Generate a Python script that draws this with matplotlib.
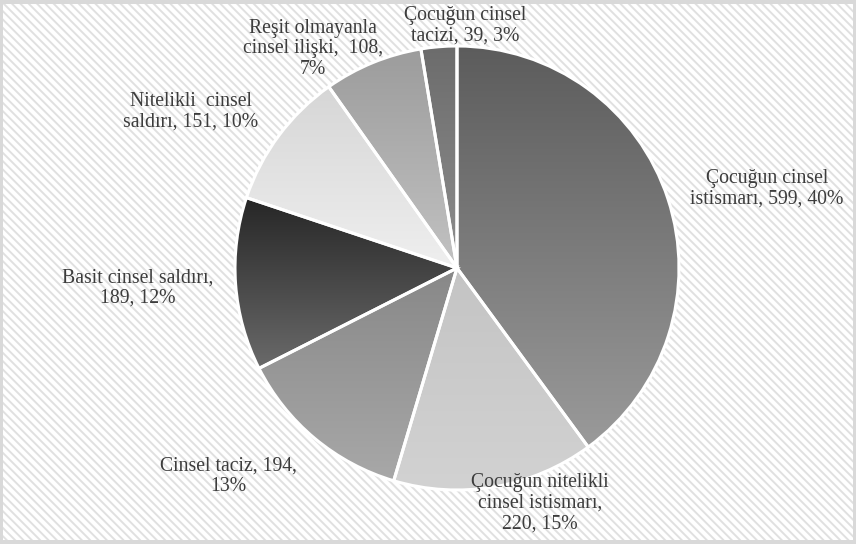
import numpy as np
import matplotlib
matplotlib.use("Agg")
import matplotlib.pyplot as plt
from matplotlib.patches import Rectangle
from matplotlib.colors import LinearSegmentedColormap

labels = [
    "Çocuğun cinsel\nistismarı, 599, 40%",
    "Çocuğun nitelikli\ncinsel istismarı,\n220, 15%",
    "Cinsel taciz, 194,\n13%",
    "Basit cinsel saldırı,\n189, 12%",
    "Nitelikli  cinsel\nsaldırı, 151, 10%",
    "Reşit olmayanla\ncinsel ilişki,  108,\n7%",
    "Çocuğun cinsel\ntacizi, 39, 3%",
]
values = [599, 220, 194, 189, 151, 108, 39]

# gradient colours (top, bottom) for each slice
grad_top = ["#5c5c5c", "#c4c4c4", "#888888", "#262626", "#d6d6d6", "#9c9c9c", "#6c6c6c"]
grad_bot = ["#9a9a9a", "#d2d2d2", "#a8a8a8", "#6a6a6a", "#efefef", "#c2c2c2", "#8e8e8e"]

# label positions in pixels (x, y from top)
label_pos = [(767, 189), (540, 503), (228, 476), (138, 288), (191, 112), (313, 49), (465, 26)]

W, H = 856, 544
plt.rcParams["font.family"] = ["Liberation Serif", "DejaVu Serif"]
plt.rcParams["hatch.linewidth"] = 1.4
plt.rcParams["hatch.color"] = "#e0e0e0"

fig = plt.figure(figsize=(W / 100, H / 100), dpi=100, facecolor="#d9d9d9")
ax = fig.add_axes([0, 0, 1, 1])

bg = Rectangle((3, 4), W - 6, H - 8, facecolor="white", edgecolor="#e0e0e0",
               hatch="\\\\\\\\", linewidth=0, zorder=0)
ax.add_patch(bg)

cx, cy, r = 457, H - 268, 222
wedges, _ = ax.pie(values, startangle=90, counterclock=False, center=(cx, cy),
                   radius=r, frame=True,
                   wedgeprops=dict(edgecolor="white", linewidth=2.2))
ax.set_xlim(0, W)
ax.set_ylim(0, H)
ax.set_aspect("equal")
ax.axis("off")

for w, c1, c2 in zip(wedges, grad_top, grad_bot):
    ext = w.get_path().get_extents()
    cmap = LinearSegmentedColormap.from_list("g", [c1, c2])
    grad = np.linspace(0, 1, 256).reshape(-1, 1)
    im = ax.imshow(grad, cmap=cmap, aspect="auto", origin="upper",
                   extent=(ext.x0, ext.x1, ext.y0, ext.y1), zorder=2)
    im.set_clip_path(w)
    w.set_facecolor("none")
    w.set_zorder(3)

for lab, (x, y) in zip(labels, label_pos):
    ax.text(x, H - y, lab, ha="center", va="center", fontsize=14.2,
            color="#3c3c3c", linespacing=1.12, zorder=4)

fig.savefig("out.png", dpi=100, facecolor=fig.get_facecolor())
